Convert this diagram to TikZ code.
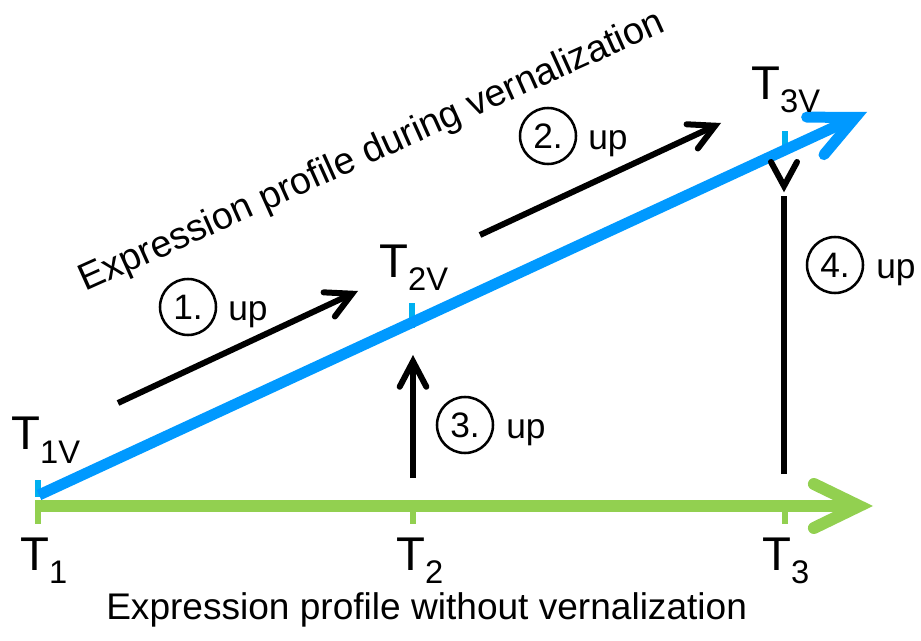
\documentclass[tikz,border=0pt]{standalone}
\usepackage{fontspec}
\setmainfont{Liberation Sans}
\usetikzlibrary{arrows.meta}
\definecolor{vgreen}{RGB}{146,208,80}
\definecolor{vblue}{RGB}{0,153,255}
\definecolor{tblue}{RGB}{0,176,240}
\newcommand\Tlab[1]{\fontsize{35.5}{35.5}\selectfont T\raisebox{-9.75pt}{\fontsize{24.5}{24.5}\selectfont #1}}
\begin{document}
\begin{tikzpicture}[x=0.75pt,y=-0.75pt,
  greenarrow/.style={draw=vgreen, line width=9pt, -{Straight Barb[length=34pt,width=33pt,line cap=round,line join=miter]}},
  bluearrow/.style={draw=vblue, line width=8.25pt, -{Straight Barb[length=33pt,width=31pt,line cap=round,line join=miter]}},
  blackarrow/.style={draw=black, line width=4.5pt, -{Straight Barb[length=19pt,width=20pt,line cap=round,line join=miter]}},
  blackline/.style={draw=black, line width=4.5pt},
  gtick/.style={draw=vgreen, line width=4.5pt},
  btick/.style={draw=tblue, line width=4pt},
  tlabel/.style={anchor=base west, inner sep=0pt},
  numcirc/.style={circle, draw, line width=1.9pt, minimum size=42pt, inner sep=0pt, font=\fontsize{26.5}{26.5}\selectfont},
  uplabel/.style={anchor=base west, inner sep=0pt, font=\fontsize{26.5}{26.5}\selectfont},
  caption/.style={anchor=base west, inner sep=0pt, font=\fontsize{27.8}{27.8}\selectfont}]
\useasboundingbox (0,0) rectangle (921,641);
% coordinates
\coordinate (g0) at (35,506);
\coordinate (g1) at (873,506);
\coordinate (b0) at (39,495);
\coordinate (b1) at (867,112);
\coordinate (k1s) at (118,403);
\coordinate (k1e) at (358,291);
\coordinate (k2s) at (480,235);
\coordinate (k2e) at (721,123);
\coordinate (k3s) at (413,478);
\coordinate (k3e) at (413,355);
\coordinate (k4s) at (784,474);
\coordinate (k4e) at (784,196);
% ticks
\coordinate (gt1a) at (38,506); \coordinate (gt1b) at (38,524);
\coordinate (gt2a) at (413,506); \coordinate (gt2b) at (413,524);
\coordinate (gt3a) at (785,506); \coordinate (gt3b) at (785,524);
\coordinate (bt1a) at (38,497); \coordinate (bt1b) at (38,480);
\coordinate (bt2a) at (412,328); \coordinate (bt2b) at (412,303);
\coordinate (bt3a) at (785,150); \coordinate (bt3b) at (785,131);
\draw[gtick] (gt1a) -- (gt1b);
\draw[gtick] (gt2a) -- (gt2b);
\draw[gtick] (gt3a) -- (gt3b);
\draw[btick] (bt1a) -- (bt1b);
\draw[btick] (bt2a) -- (bt2b);
\draw[btick] (bt3a) -- (bt3b);
% main arrows
\draw[greenarrow] (g0) -- (g1);
\draw[bluearrow] (b0) -- (b1);
% black arrows
\draw[blackarrow] (k1s) -- (k1e);
\draw[blackarrow] (k2s) -- (k2e);
\draw[blackarrow] (k3s) -- (k3e);
\draw[blackline] (k4s) -- (k4e);
\draw[black, line width=4.5pt, line cap=round, line join=miter] (771,162) -- (784,186) -- (797,162);
% T labels
\node[tlabel] (t1v) at (11,450) {\Tlab{1V}};
\node[tlabel] (t2v) at (379,278) {\Tlab{2V}};
\node[tlabel] (t3v) at (751,100) {\Tlab{3V}};
\node[tlabel] (t1) at (20,570) {\Tlab{1}};
\node[tlabel] (t2) at (396,570) {\Tlab{2}};
\node[tlabel] (t3) at (762,570) {\Tlab{3}};
% numbered labels
\node[numcirc] (c1) at (188,307) {1.};
\node[uplabel] (u1) at (228,321) {up};
\node[numcirc] (c2) at (548,136) {2.};
\node[uplabel] (u2) at (588,150) {up};
\node[numcirc] (c3) at (465,425) {3.};
\node[uplabel] (u3) at (506,439) {up};
\node[numcirc] (c4) at (835,265) {4.};
\node[uplabel] (u4) at (876,279) {up};
% captions
\node[caption, rotate=24.2, font=\fontsize{28.3}{28.3}\selectfont] (cap1) at (85,292) {Expression profile during vernalization};
\node[caption] (cap2) at (106,619) {Expression profile without vernalization};
\end{tikzpicture}
\end{document}
